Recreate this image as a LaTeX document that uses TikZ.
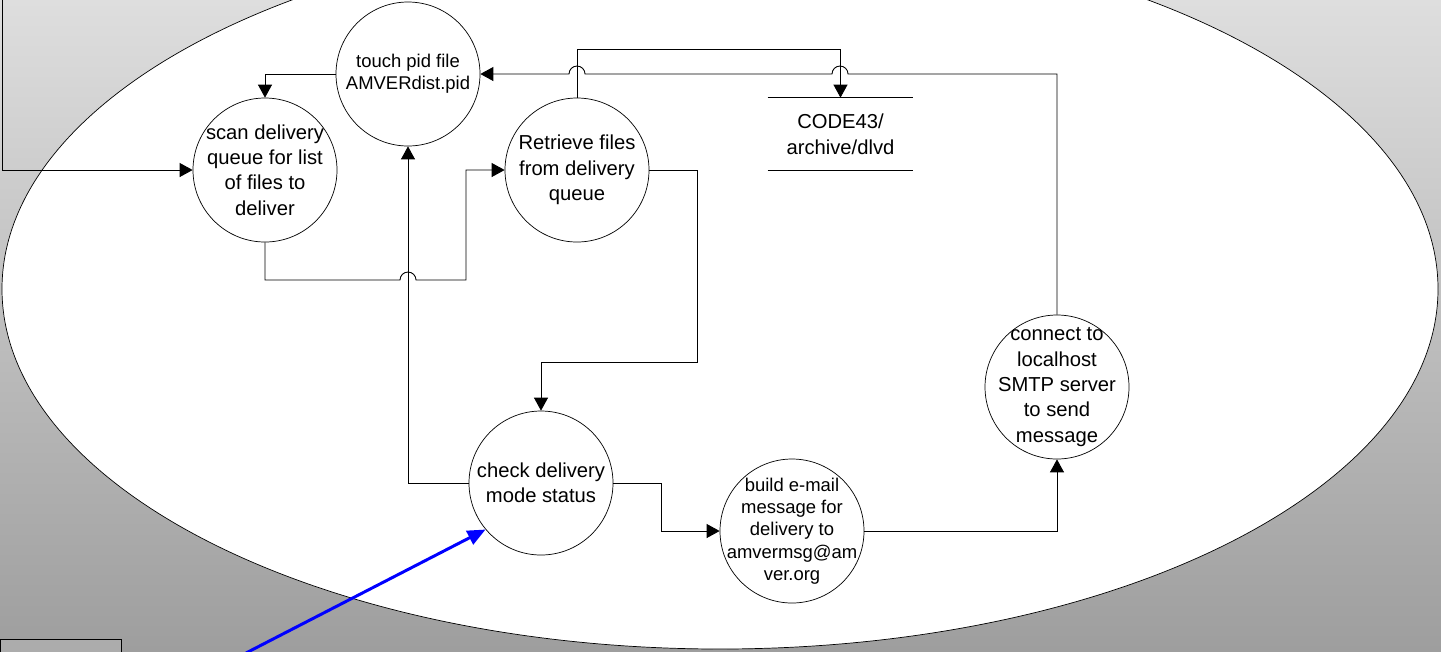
\documentclass[tikz,border=0pt]{standalone}
\usepackage{fontspec}
\setmainfont{Liberation Sans}
\usetikzlibrary{arrows.meta}

\begin{document}
\begin{tikzpicture}[scale=0.2]
    \tikzstyle{every node}+=[inner sep=0pt]
    \tikzstyle{proc}=[draw=black, fill=white, circle, minimum size=2.88cm]
    \tikzstyle{big}=[align=center, font=\fontsize{11.5}{14.4}\selectfont]
    \tikzstyle{small}=[align=center, font=\fontsize{10.5}{12.7}\selectfont]
    \tikzstyle{flow}=[draw=black, line width=0.5pt, -{Triangle[length=2.6mm,width=2.8mm]}]
    \clip (0,0) rectangle (144.1,-65.1);
    \shade [top color={rgb,255:red,222;green,222;blue,222}, bottom color={rgb,255:red,158;green,158;blue,158}] (0,0) rectangle (144.1,-65.1);
    \draw [black, fill=white] (72.0,-28.9) ellipse (71.8 and 36.0);
    \draw [black, fill={rgb,255:red,172;green,172;blue,172}] (0,-63.9) rectangle (12.1,-66);
    % processes
    \node [proc, label={[small]center:touch pid file\\AMVERdist.pid}] (touch) at (40.8,-7.4) {};
    \node [proc, label={[big]center:scan delivery\\queue for list\\of files to\\deliver}] (scan) at (26.5,-17.0) {};
    \node [proc, label={[big]center:Retrieve files\\from delivery\\queue}] (retr) at (57.7,-17.0) {};
    \node [proc, label={[big]center:check delivery\\mode status}] (check) at (54.1,-48.3) {};
    \node [proc, label={[small]center:build e-mail\\message for\\delivery to\\amvermsg@am\\ver.org}] (build) at (79.2,-53.1) {};
    \node [proc, label={[big]center:connect to\\localhost\\SMTP server\\to send\\message}] (conn) at (105.7,-38.7) {};
    % data store
    \node [big, minimum width=2.9cm, minimum height=1.44cm, font=\fontsize{11.5}{14.6}\selectfont] (store) at (84.05,-13.4) {CODE43/\\archive/dlvd};
    \draw [black] (store.north west) -- (store.north east);
    \draw [black] (store.south west) -- (store.south east);
    \coordinate (topin) at (0.2,0.5);
    \coordinate (bluein) at (24.6,-65.3);
    % flows
    \draw [flow] (topin) |- (scan.west);
    \draw [flow] (touch.west) -| (scan.north);
    \draw [flow] (scan.south) |- (40.0,-28.0) arc (180:0:0.8) -- (46.6,-28.0) |- (retr.west);
    \draw [flow] (check.west) -| (touch.south);
    \draw [flow] (retr.north) -- ++(0,4.8) -| (store.north);
    \draw [flow] (retr.east) -| (69.7,-36.2) -| (check.north);
    \draw [flow] (check.east) -- ++(4.8,0) |- (build.west);
    \draw [flow] (build.east) -| (conn.south);
    \draw [flow] (conn.north) |- (84.8,-7.4) arc (0:180:0.8) -- (58.5,-7.4) arc (0:180:0.8) -- (touch.east);
    \draw [blue, line width=1.7pt, -{Triangle[length=3.6mm,width=3mm]}] (bluein) -- (check.220);
\end{tikzpicture}
\end{document}
